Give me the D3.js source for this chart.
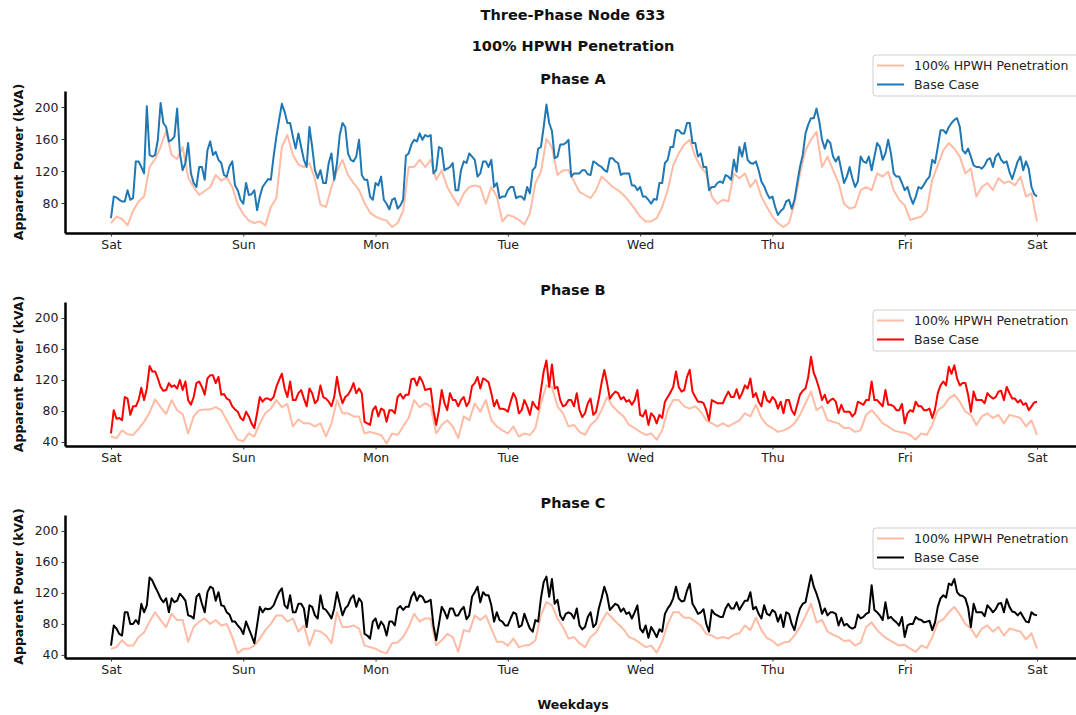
<!DOCTYPE html>
<html>
<head>
<meta charset="utf-8">
<script src="https://cdn.jsdelivr.net/npm/d3@7"></script>
<style>
  html, body { margin: 0; padding: 0; background: #fff; }
  svg { display: block; font-family: "DejaVu Sans", sans-serif; }
</style>
</head>
<body>
<svg id="chart" width="1076" height="715"></svg>
<script>
// Apparent power (kVA) over one week, Saturday 00:00 to the next Saturday 00:00.
// Base case: readings on the hour plus readings at half past; HPWH case: hourly.
const dayLabels = ["Sat", "Sun", "Mon", "Tue", "Wed", "Thu", "Fri", "Sat"];
const seriesNames = ["100% HPWH Penetration", "Base Case"];
const yTicksA = [80, 120, 160, 200];
const yTicksBC = [40, 80, 120, 160, 200];

const phaseA_base_hour = [
  61,87,82,96,86,132,117,140,140,205, 175,159,198,121,155,105,125,109,157,144,
  130,113,132,96,79,90,96,88,105,109, 163,204,180,163,167,134,175,121,121,105,
  142,130,180,142,132,159,109,88,105,113, 79,84,73,84,142,159,167,
  165,165,121,148,123,130,96,132,142,134, 117,132,134,105,88,96,100,88,84,92,
  125,150,203,170,138,153,159,117,117,121, 115,130,125,119,136,130,117,117,102,100,
  88,79,84,105,134,150,171,167,180,155, 142,125,100,105,105,113,
  134,150,155,130,132,107,92,88,65,73, 84,84,125,167,186,198,159,159,138,138,
  105,125,100,138,130,121,155,134,159,117, 113,96,88,88,98,109,134,150,171,175,
  184,175,142,138,125,123,134,125,142,130, 119,121,138,132,100,88
];
const phaseA_base_halfPast = [
  88,84,82,84,132,125,201,138,159,180, 157,163,142,130,117,100,125,146,140,134,
  115,126,102,84,105,91,71,100,110,138, 184,194,180,148,150,125,150,111,105,130,
  109,165,175,134,138,115,109,84,102,84, 72,86,77,139,153,157,
  159,163,117,150,121,125,96,121,130,138, 113,132,125,100,86,88,100,86,88,100,
  121,148,175,180,136,153,155,113,117,121, 116,132,127,121,136,132,115,117,102,96,
  88,84,85,105,130,150,171,167,180,155, 138,125,96,100,107,115,
  109,119,138,134,129,121,101,86,75,70, 82,73,105,140,178,186,182,148,155,132,
  121,113,111,107,132,138,138,150,142,142, 113,105,100,79,100,103,113,130,171,167,
  180,186,146,148,127,125,127,136,138,134, 132,110,132,121,123,91
];
const phaseA_hpwh = [
  55,63,60,52,70,82,88,125,135,150, 170,140,135,150,112,100,90,95,100,115,
  108,112,100,78,66,58,55,57,52,75, 86,150,165,140,128,125,130,110,78,75,
  100,120,134,115,105,96,80,68,63,60, 58,50,55,70,125,125,134,
  125,134,109,121,100,88,77,92,100,102, 100,79,100,88,57,65,63,59,53,67,
  105,119,160,150,115,121,121,107,94,90, 86,96,113,107,100,96,90,82,73,63,
  57,57,61,75,96,127,142,153,159,138, 125,117,88,79,84,82,
  117,111,117,100,109,88,75,63,55,50, 55,79,117,146,159,169,125,138,121,105,
  79,73,75,96,100,96,117,113,119,96, 84,77,59,61,63,71,109,127,146,155,
  148,138,117,123,88,100,105,96,111,105, 107,102,113,88,92,57
];

const phaseB_base_hour = [
  51,70,68,96,86,94,94,138,131,111, 107,111,109,107,94,98,118,101,126,116,
  101,96,86,79,68,73,58,98,96,94, 111,128,98,94,103,96,109,90,113,96,
  86,124,90,101,116,109,66,62,86,83, 66,81,98,96,101,122,124,
  107,109,62,107,81,94,86,98,92,116, 109,120,103,94,83,79,103,77,94,75,
  86,107,145,140,111,86,94,86,81,77, 96,79,116,116,101,103,98,94,94,75,
  81,77,64,71,98,111,111,107,133,98, 92,81,94,90,90,105,
  98,96,113,122,103,86,94,98,83,77, 94,75,101,109,150,120,94,90,96,77,
  79,79,77,90,94,118,94,86,88,86, 81,64,81,92,86,81,71,103,118,137,
  139,113,116,79,94,94,103,96,105,94, 103,96,94,90,86,92
];
const phaseB_base_halfPast = [
  81,71,98,75,86,110,109,131,122,106, 116,113,120,118,88,116,111,122,126,124,
  102,94,82,71,79,64,77,92,96,98, 120,109,118,94,107,86,103,94,98,92,
  98,103,98,107,103,103,64,81,73,81, 81,77,102,101,121,113,
  118,108,81,81,90,103,94,94,86,112, 124,122,117,86,83,82,92,96,81,86,
  92,82,131,111,109,94,88,94,103,72, 90,75,96,133,96,105,95,92,88,107,
  73,62,73,75,92,104,131,105,124,105, 92,90,68,92,90,98,
  98,108,103,109,98,92,105,91,94,92, 94,81,88,106,124,129,108,101,94,92,
  88,79,73,92,88,94,94,90,107,88, 81,89,77,79,86,81,83,82,113,113,
  128,122,116,101,105,94,90,99,98,106, 111,96,91,88,81,91
];
const phaseB_hpwh = [
  47,45,55,50,49,57,66,78,95,85, 76,94,81,76,51,73,81,82,82,85,
  81,68,55,43,41,51,47,64,77,83, 94,85,89,60,69,64,64,60,64,47,
  64,94,77,77,73,73,51,53,51,49, 38,51,49,60,71,94,85,
  90,86,51,62,68,60,45,73,68,90, 79,94,68,60,55,51,60,47,51,49,
  58,90,113,111,86,77,60,62,53,49, 62,68,81,98,86,79,73,62,58,53,
  49,51,43,55,81,94,94,86,83,86, 79,68,64,60,64,60,
  64,68,77,73,88,71,62,58,53,55, 58,64,75,90,105,81,86,68,66,64,
  58,58,53,55,75,81,73,64,60,55, 53,52,49,43,51,49,62,81,86,96,
  101,92,79,75,62,73,77,71,75,64, 75,73,71,60,68,49
];

const phaseC_base_hour = [
  52,74,65,95,80,80,95,140,128,113, 113,113,110,115,91,87,119,95,128,110,
  104,95,83,78,67,74,55,102,100,100, 113,126,100,95,106,100,104,91,117,98,
  87,121,91,104,117,113,67,61,87,83, 65,83,100,98,102,121,117,
  108,111,59,102,87,100,91,102,91,121, 108,117,104,95,83,78,95,76,93,74,
  85,113,141,138,111,85,95,87,78,76, 95,80,113,117,102,104,100,95,95,74,
  78,76,63,70,100,113,113,110,132,100, 95,80,98,91,89,106,
  100,98,110,121,102,87,93,98,83,76, 93,72,100,108,143,119,93,91,95,78,
  78,76,76,87,93,130,95,85,87,85, 78,63,80,89,85,83,72,102,117,132,
  138,117,113,76,95,95,104,95,106,95, 102,95,95,83,95,91
];
const phaseC_base_halfPast = [
  78,67,95,80,85,106,104,136,121,108, 95,108,119,110,90,115,106,121,126,121,
  103,92,83,74,83,65,78,95,99,104, 121,104,117,95,106,76,102,87,100,93,
  100,106,100,113,102,108,65,83,74,78, 83,78,103,102,115,110,
  115,109,78,80,96,100,91,98,86,115, 128,121,117,83,85,78,87,93,78,83,
  70,83,134,115,106,91,93,93,100,73, 89,76,100,128,98,106,96,93,87,104,
  69,62,70,73,93,105,128,109,123,106, 93,99,70,93,89,100,
  100,108,104,110,99,93,104,91,95,92, 95,80,88,106,125,128,108,100,95,93,
  88,80,74,92,89,95,98,91,108,89, 82,89,78,80,86,82,84,82,113,114,
  130,121,116,101,106,95,90,100,99,107, 112,96,91,89,82,92
];
const phaseC_hpwh = [
  48,50,59,52,52,63,69,83,95,85, 76,93,85,85,57,76,83,87,80,85,
  78,80,63,42,48,48,52,61,72,80, 91,91,83,87,70,78,52,72,70,65,
  55,95,76,76,78,74,52,50,48,44, 42,55,56,63,76,93,83,
  87,87,52,59,67,63,44,72,70,91, 85,91,74,57,57,52,61,50,52,53,
  59,91,108,104,87,76,61,63,55,50, 63,69,83,95,87,80,73,63,60,55,
  50,52,43,57,80,95,95,88,88,83, 78,67,65,61,63,61,
  66,68,78,72,88,72,62,58,52,56, 57,65,76,90,106,82,85,70,66,63,
  58,59,52,56,76,82,72,65,60,56, 52,53,48,44,52,49,63,82,86,95,
  102,92,80,74,63,74,78,70,76,65, 74,72,70,60,68,48
];

// on-the-hour and half-past readings into one time-ordered series
function interleave(onHour, halfPast) {
  return d3.merge(onHour.map((v, i) => i < halfPast.length ? [v, halfPast[i]] : [v]));
}

// ---- layout ----
const axisLeftX = 65, axisRightX = 1076;
const firstTickX = 111, lastTickX = 1037;
const hpwhColor = "#ffbba4";

const panels = [
  { title: "Phase A", base: interleave(phaseA_base_hour, phaseA_base_halfPast), hpwh: phaseA_hpwh,
    color: "#1f77b4", top: 91, bottom: 233, domain: [42.5, 220], ticks: yTicksA, legendTop: 55 },
  { title: "Phase B", base: interleave(phaseB_base_hour, phaseB_base_halfPast), hpwh: phaseB_hpwh,
    color: "#ff0000", top: 302, bottom: 446, domain: [34.8, 220.6], ticks: yTicksBC, legendTop: 310 },
  { title: "Phase C", base: interleave(phaseC_base_hour, phaseC_base_halfPast), hpwh: phaseC_hpwh,
    color: "#000000", top: 515, bottom: 658, domain: [36, 220.6], ticks: yTicksBC, legendTop: 528 }
];

const svg = d3.select("#chart");

// hours since the first Saturday -> x
const hours = (dayLabels.length - 1) * 24;
const x = d3.scaleLinear().domain([0, hours]).range([firstTickX, lastTickX]);
// same mapping, stretched over the full spine width
const xSpine = x.copy().domain([x.invert(axisLeftX), x.invert(axisRightX)]).range([axisLeftX, axisRightX]);
const dayTicks = dayLabels.map((d, i) => i * 24);

// figure titles
svg.append("text").attr("x", 573).attr("y", 20).attr("text-anchor", "middle")
  .attr("font-size", 14.5).attr("font-weight", "bold").attr("fill", "#111")
  .text("Three-Phase Node 633");
svg.append("text").attr("x", 573).attr("y", 51).attr("text-anchor", "middle")
  .attr("font-size", 14.5).attr("font-weight", "bold").attr("fill", "#111")
  .text("100% HPWH Penetration");

panels.forEach(p => {
  const g = svg.append("g");
  const y = d3.scaleLinear().domain(p.domain).range([p.bottom, p.top]);

  // subplot title
  g.append("text").attr("x", 573).attr("y", p.top - 7).attr("text-anchor", "middle")
    .attr("font-size", 14.5).attr("font-weight", "bold").attr("fill", "#111")
    .text(p.title);

  // y label
  g.append("text")
    .attr("transform", `translate(${23},${(p.top + p.bottom) / 2}) rotate(-90)`)
    .attr("text-anchor", "middle").attr("font-size", 12.5).attr("font-weight", "bold")
    .attr("fill", "#111").text("Apparent Power (kVA)");

  const lineFor = arr => {
    const step = hours / (arr.length - 1);
    return d3.line().x((d, i) => x(i * step)).y(d => y(d))(arr);
  };

  g.append("path").attr("d", lineFor(p.hpwh))
    .attr("fill", "none").attr("stroke", hpwhColor).attr("stroke-width", 2)
    .attr("stroke-linejoin", "round");
  g.append("path").attr("d", lineFor(p.base))
    .attr("fill", "none").attr("stroke", p.color).attr("stroke-width", 2)
    .attr("stroke-linejoin", "round");

  // y axis
  const ya = g.append("g").attr("transform", `translate(${axisLeftX},0)`)
    .call(d3.axisLeft(y).tickValues(p.ticks).tickSize(3.5).tickSizeOuter(0).tickPadding(3));
  ya.select(".domain").attr("stroke", "#000").attr("stroke-width", 2.5);
  ya.selectAll(".tick line").attr("stroke", "#222").attr("stroke-width", 0.9);
  ya.selectAll(".tick text").attr("font-size", 12.5).attr("fill", "#222")
    .attr("font-family", "DejaVu Sans, sans-serif");

  // x axis
  const xa = g.append("g").attr("transform", `translate(0,${p.bottom})`)
    .call(d3.axisBottom(xSpine).tickValues(dayTicks)
      .tickFormat((d, i) => dayLabels[i]).tickSize(3.5).tickSizeOuter(0).tickPadding(4));
  xa.select(".domain").attr("stroke", "#000").attr("stroke-width", 2.5);
  xa.selectAll(".tick line").attr("stroke", "#222").attr("stroke-width", 0.9);
  xa.selectAll(".tick text").attr("font-size", 12.5).attr("fill", "#222")
    .attr("font-family", "DejaVu Sans, sans-serif");

  // legend
  const lg = g.append("g").attr("transform", `translate(873,${p.legendTop})`);
  lg.append("rect").attr("x", 0).attr("y", 0).attr("width", 215).attr("height", 41)
    .attr("rx", 3).attr("fill", "#fff").attr("fill-opacity", 0.85)
    .attr("stroke", "#d0d0d0").attr("stroke-width", 1);
  const entries = [{ label: seriesNames[0], color: hpwhColor }, { label: seriesNames[1], color: p.color }];
  entries.forEach((e, i) => {
    const yy = 10.5 + i * 19;
    lg.append("line").attr("x1", 4).attr("x2", 31).attr("y1", yy).attr("y2", yy)
      .attr("stroke", e.color).attr("stroke-width", 2);
    lg.append("text").attr("x", 41).attr("y", yy).attr("dy", "0.35em")
      .attr("font-size", 12.5).attr("fill", "#222").text(e.label);
  });
});

// shared x label
svg.append("text").attr("x", 573).attr("y", 709).attr("text-anchor", "middle")
  .attr("font-size", 12.5).attr("font-weight", "bold").attr("fill", "#111")
  .text("Weekdays");
</script>
</body>
</html>
